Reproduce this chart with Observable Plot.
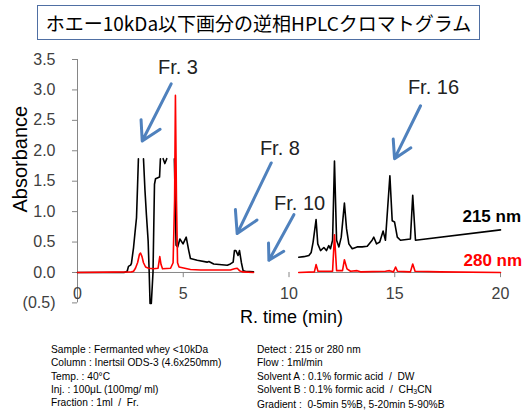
<!DOCTYPE html>
<html>
<head>
<meta charset="utf-8">
<script src="https://cdn.jsdelivr.net/npm/d3@7"></script>
<script src="https://cdn.jsdelivr.net/npm/@observablehq/plot@0.6"></script>
<style>
  html, body { margin: 0; padding: 0; background: #fff; }
  body { width: 522px; height: 412px; position: relative; overflow: hidden; }
  #title {
    position: absolute; left: 37px; top: 5px; width: 443px; height: 35px;
    box-sizing: border-box; border: 1.5px solid #4f6fa3;
    display: flex; align-items: center; justify-content: center;
    font-family: "Noto Sans CJK JP", sans-serif; font-size: 19px; color: #000;
  }
  #chart { position: absolute; left: 0; top: 44px; }
  .cap { position: absolute; top: 343px; font-family: "Liberation Sans", Arial, sans-serif;
         font-size: 10.2px; line-height: 13.33px; color: #000; white-space: nowrap; }
  #capL { left: 51px; }
  #capR { left: 257px; }
</style>
</head>
<body>
<div id="title">ホエー10kDa以下画分の逆相HPLCクロマトグラム</div>
<div id="chart"></div>
<div class="cap" id="capL"></div>
<div class="cap" id="capR"></div>
<script>
// ---- axis ticks ----
const xTicks = [0, 5, 10, 15, 20];
const yTicks = [-0.5, 0, 0.5, 1, 1.5, 2, 2.5, 3, 3.5];

// ---- 215 nm trace, 0–8.3 min (null = hidden / cut off part) ----
const abs215Early = [
  [0,0],[2.2,0],[2.35,0.02],[2.41,0.10],[2.51,0.12],[2.55,0.15],[2.65,0.41],[2.72,0.66],
  [2.79,0.90],[2.84,1.43],[2.88,1.87],[2.9,null],[3.12,1.87],[3.19,1.35],[3.26,0.94],
  [3.34,0.52],[3.39,0.0],[3.43,-0.51],[3.49,-0.51],[3.57,0.0],[3.64,1.45],[3.69,1.54],
  [3.88,1.57],[3.92,1.87],[3.95,null],[4.05,1.87],[4.13,1.79],[4.22,1.87],[4.3,null],
  [4.58,1.87],[4.66,0.45],[4.74,0.42],[4.84,0.55],[4.99,0.47],[5.14,0.58],[5.26,0.36],
  [5.34,0.23],[5.66,0.20],[6.13,0.17],[6.21,0.18],[6.44,0.14],[7.08,0.12],[7.23,0.14],
  [7.36,0.17],[7.42,0.36],[7.49,0.36],[7.59,0.28],[7.66,0.36],[7.75,0.16],[7.83,0.03],
  [7.94,0.02],[8.32,0.01]
];
// ---- 280 nm trace, 0–8.3 min ----
const abs280Early = [
  [0,0],[2.55,0.01],[2.65,0.02],[2.74,0.07],[2.84,0.16],[2.93,0.30],[2.98,0.32],[3.05,0.26],
  [3.12,0.16],[3.22,0.09],[3.36,0.07],[3.59,0.06],[3.81,0.07],[3.89,0.26],[3.95,0.13],
  [4.02,0.06],[4.40,0.07],[4.52,0.16],[4.59,1.18],[4.63,2.91],[4.68,1.18],[4.73,0.16],
  [4.80,0.09],[5.34,0.05],[5.82,0.04],[6.52,0.04],[7.23,0.04],[7.42,0.06],[7.55,0.07],
  [7.66,0.03],[7.80,0.01],[8.32,0]
];
// ---- 215 nm trace, 10.5–20 min ----
const abs215Late = [
  [10.46,0.25],[10.70,0.26],[10.94,0.28],[11.05,0.33],[11.14,0.50],[11.28,0.87],[11.36,0.47],
  [11.49,0.36],[11.65,0.41],[11.77,0.36],[11.88,0.44],[11.96,0.39],[12.06,0.53],[12.15,1.83],
  [12.25,0.53],[12.36,0.42],[12.47,0.58],[12.62,1.14],[12.72,0.72],[12.83,0.47],[12.99,0.39],
  [13.22,0.42],[13.46,0.42],[13.70,0.43],[13.93,0.53],[14.01,0.58],[14.14,0.47],[14.29,0.50],
  [14.45,0.68],[14.56,0.53],[14.77,1.59],[14.88,0.85],[14.99,0.83],[15.12,0.58],[15.27,0.53],
  [15.74,0.55],[15.85,1.27],[15.98,0.53],[20.0,0.70]
];
// ---- 280 nm trace, 10.5–20 min ----
const abs280Late = [
  [10.46,0.0],[11.20,0.01],[11.28,0.13],[11.37,0.02],[12.06,0.02],[12.15,0.62],[12.25,0.03],
  [12.53,0.03],[12.62,0.21],[12.74,0.06],[12.91,0.02],[13.22,0.03],[13.38,0.01],[14.56,0.02],
  [14.75,0.03],[14.94,0.01],[15.04,0.09],[15.13,0.02],[15.74,0.01],[15.85,0.14],[15.96,0.02],
  [17.16,0.01],[20.0,0.0]
];

// ---- annotations ----
const fracNames  = ["Fr. 3", "Fr. 8", "Fr. 10", "Fr. 16"];
const fracTextAt = [[4.75,3.37],[9.57,2.04],[10.50,1.13],[16.83,3.04]];
const arrowFrom  = [[4.43,3.10],[9.16,1.80],[10.23,0.95],[16.22,2.74]];
const arrowTo    = [[3.06,2.16],[7.55,0.64],[9.05,0.20],[14.99,1.87]];

const seriesNames  = ["215 nm", "280 nm"];
const seriesColors = ["#000000", "#ff0000"];
const seriesLabelAt = [[18.2,0.92],[18.25,0.20]];

const captionLeft = [
  "Sample : Fermanted whey &lt;10kDa",
  "Column : Inertsil ODS-3 (4.6x250mm)",
  "Temp. : 40°C",
  "Inj. : 100μL (100mg/ ml)",
  "Fraction : 1ml &nbsp;/ &nbsp;Fr."
];
const captionRight = [
  "Detect : 215 or 280 nm",
  "Flow : 1ml/min",
  "Solvent A : 0.1% formic acid &nbsp;/ &nbsp;DW",
  "Solvent B : 0.1% formic acid &nbsp;/ &nbsp;CH<sub style='font-size:7px;vertical-align:-1px'>3</sub>CN",
  "Gradient : &nbsp;0-5min 5%B, 5-20min 5-90%B"
];

// ---- build tables ----
const toRows = (arr, series, seg) => arr.map(([t, a]) => ({t, a, series, seg}));
const rows215 = [...toRows(abs215Early, seriesNames[0], "early"), ...toRows(abs215Late, seriesNames[0], "late")];
const rows280 = [...toRows(abs280Early, seriesNames[1], "early"), ...toRows(abs280Late, seriesNames[1], "late")];
const segSpans = [d3.extent(abs280Early, d => d[0]), d3.extent(abs280Late, d => d[0])];

const fracRows = fracNames.map((name, i) => ({
  name, tx: fracTextAt[i][0], ty: fracTextAt[i][1],
  x1: arrowFrom[i][0], y1: arrowFrom[i][1], x2: arrowTo[i][0], y2: arrowTo[i][1]
}));
const legendRows = seriesNames.map((name, i) => ({name, color: seriesColors[i], t: seriesLabelAt[i][0], a: seriesLabelAt[i][1]}));

const fmtY = d => d < 0 ? `(${Math.abs(d).toFixed(1)})` : d.toFixed(1);

const chart = Plot.plot({
  width: 522, height: 290,
  marginLeft: 77, marginRight: 22, marginTop: 15, marginBottom: 31.6,
  x: {domain: [0, 20], axis: null},
  y: {domain: [-0.5, 3.5]},
  style: {fontFamily: "'Liberation Sans', Arial, sans-serif", background: "white", overflow: "visible"},
  marks: [
    Plot.axisY(yTicks, {tickFormat: fmtY, tickSize: 5, tickPadding: 17, fontSize: 16,
      label: null, stroke: "#868686", fill: "#404040"}),
    Plot.ruleX([0], {y1: -0.5, y2: 3.5, stroke: "#868686"}),
    Plot.ruleY(segSpans, {y: () => 0, x1: d => d[0], x2: d => d[1], stroke: "#868686"}),
    Plot.ruleX(xTicks, {x: d => d, y1: 0, y2: -0.085, stroke: "#868686"}),
    Plot.text(xTicks, {x: d => d, y: 0, dy: 21, text: d => String(d), fontSize: 16, fill: "#404040"}),
    Plot.text(["Absorbance"], {frameAnchor: "left", textAnchor: "middle", lineAnchor: "middle", rotate: -90, dx: -57, dy: -22, fontSize: 20, fill: "#000"}),
    Plot.text(["R. time (min)"], {frameAnchor: "bottom", textAnchor: "middle", lineAnchor: "middle", dx: 2.5, dy: 14.6, fontSize: 18, fill: "#000"}),
    Plot.line(rows215, {x: "t", y: "a", z: "seg", stroke: seriesColors[0], strokeWidth: 1.6}),
    Plot.line(rows280, {x: "t", y: "a", z: "seg", stroke: seriesColors[1], strokeWidth: 1.6}),
    Plot.arrow(fracRows, {x1: "x1", y1: "y1", x2: "x2", y2: "y2", stroke: "#4f81bd", strokeWidth: 3, headLength: 12}),
    Plot.text(fracRows, {x: "tx", y: "ty", text: "name", fontSize: 20, fill: "#222"}),
    Plot.text(legendRows, {x: "t", y: "a", text: "name", fill: "color", textAnchor: "start", fontSize: 17, fontWeight: "bold"})
  ]
});
document.getElementById("chart").appendChild(chart);
document.getElementById("capL").innerHTML = captionLeft.join("<br>");
document.getElementById("capR").innerHTML = captionRight.join("<br>");
</script>
</body>
</html>
